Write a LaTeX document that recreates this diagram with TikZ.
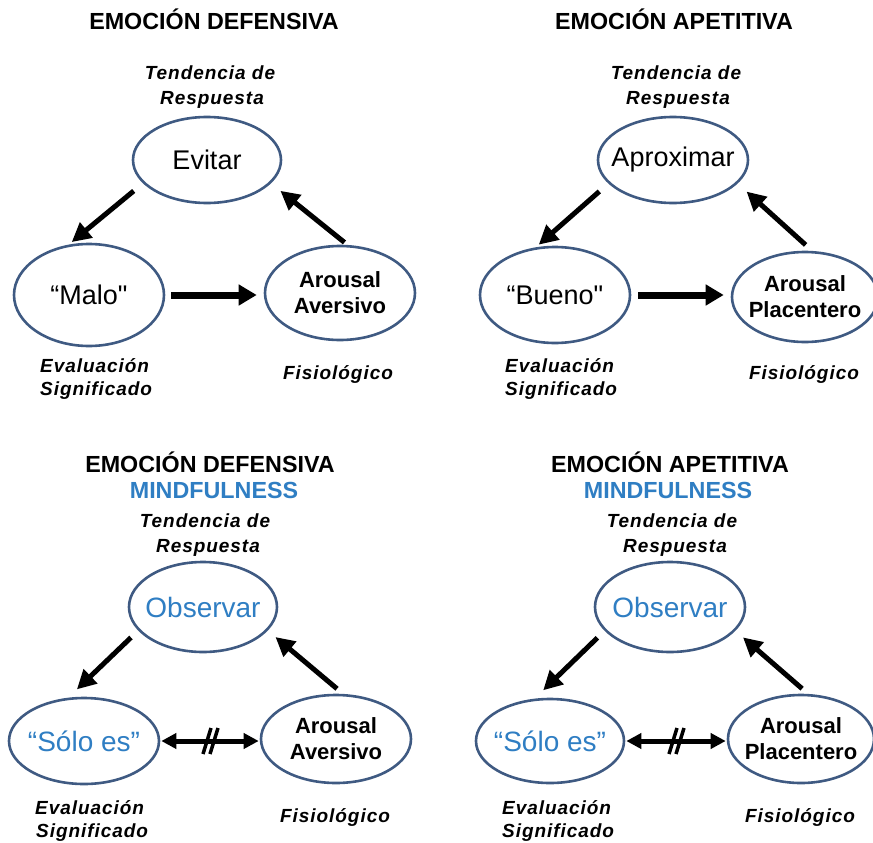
\documentclass[tikz,border=0pt]{standalone}
\usepackage{fontspec}
\setmainfont{Liberation Sans}
\usetikzlibrary{shapes.geometric,arrows.meta,calc}
\definecolor{ellc}{HTML}{3F5A82}
\definecolor{mblue}{HTML}{2F7EC3}
\newcommand{\sq}{\XeTeXglyph\XeTeXcharglyph"22\relax}
\begin{document}
\begin{tikzpicture}[x=1pt,y=-1pt,
  ell/.style={ellipse,draw=ellc,line width=2.6pt,inner sep=0pt},
  ttl/.style={font=\fontsize{23.3}{26}\selectfont\bfseries,anchor=base,inner sep=0pt},
  lab/.style={font=\fontsize{19}{24}\selectfont\bfseries\itshape\addfontfeature{LetterSpace=5},anchor=base,inner sep=0pt},
  inreg/.style={font=\fontsize{27}{30}\selectfont},
  inblue/.style={font=\fontsize{28}{30}\selectfont,text=mblue},
  inbold/.style={font=\fontsize{22}{26}\selectfont\bfseries,align=center},
  arr/.style={line width=5pt,-{Triangle[length=19pt,width=19pt]}},
  harr/.style={line width=7pt,-{Triangle[length=18pt,width=20pt]}},
  darr/.style={line width=5pt,{Triangle[length=15pt,width=15pt]}-{Triangle[length=15pt,width=15pt]}},
  slash/.style={line width=3.5pt}
]
\useasboundingbox (0,0) rectangle (873,843);

% ---------- Panel 1 ----------
\node[ell,minimum width=148pt,minimum height=86pt,label={[inreg]center:Evitar}] (E1) at (207,160) {};
\node[ell,minimum width=150pt,minimum height=102pt,label={[inreg]center:{“Malo\sq}}] (M1) at (89,295) {};
\node[ell,minimum width=150pt,minimum height=94pt,label={[inbold]center:{Arousal\\Aversivo}}] (A1) at (340,293) {};
\node[ttl] (t1) at (214,30) {EMOCIÓN DEFENSIVA};
\node[lab] (r1a) at (210,80) {Tendencia de};
\node[lab] (r1b) at (212,104) {Respuesta};
\node[lab,anchor=base west] (v1a) at (40,372) {Evaluación};
\node[lab,anchor=base west] (v1b) at (40,395) {Significado};
\node[lab] (f1) at (338,379) {Fisiológico};
\draw[arr,shorten <=12pt,shorten >=4pt] (E1.200) -- (M1.112);
\draw[arr,shorten <=4pt,shorten >=12pt] (A1.81) -- (E1.340);
\draw[harr,shorten <=6pt,shorten >=7pt] (M1.east) -- (M1.east -| A1.west);

% ---------- Panel 2 ----------
\node[ell,minimum width=150pt,minimum height=86pt,label={[inreg]center:Aproximar}] (E2) at (673,160) {};
\node[ell,minimum width=150pt,minimum height=96pt,label={[inreg]center:{“Bueno\sq}}] (M2) at (555,295) {};
\node[ell,minimum width=146pt,minimum height=90pt,label={[inbold]center:{Arousal\\Placentero}}] (A2) at (805,297) {};
\node[ttl] (t2) at (674,30) {EMOCIÓN APETITIVA};
\node[lab] (r2a) at (676,80) {Tendencia de};
\node[lab] (r2b) at (678,104) {Respuesta};
\node[lab,anchor=base west] (v2a) at (505,372) {Evaluación};
\node[lab,anchor=base west] (v2b) at (505,395) {Significado};
\node[lab] (f2) at (804,379) {Fisiológico};
\draw[arr,shorten <=12pt,shorten >=4pt] (E2.200) -- (M2.112);
\draw[arr,shorten <=9pt,shorten >=12pt] (A2.81) -- (E2.340);
\draw[harr,shorten <=7pt,shorten >=7pt] (M2.east) -- (M2.east -| A2.west);

% ---------- Panel 3 ----------
\node[ell,minimum width=148pt,minimum height=90pt,label={[inblue]center:Observar}] (E3) at (203,607) {};
\node[ell,minimum width=150pt,minimum height=86pt,label={[inblue]center:{“Sólo es”}}] (M3) at (84,741) {};
\node[ell,minimum width=150pt,minimum height=88pt,label={[inbold]center:{Arousal\\Aversivo}}] (A3) at (336,739) {};
\node[ttl] (t3) at (210,472) {EMOCIÓN DEFENSIVA};
\node[ttl,text=mblue] (m3) at (214,498) {MINDFULNESS};
\node[lab] (r3a) at (205,527) {Tendencia de};
\node[lab] (r3b) at (208,552) {Respuesta};
\node[lab,anchor=base west] (v3a) at (35,814) {Evaluación};
\node[lab,anchor=base west] (v3b) at (36,837) {Significado};
\node[lab] (f3) at (335,822) {Fisiológico};
\draw[arr,shorten <=10pt,shorten >=12pt] (E3.200) -- (M3.110);
\draw[arr,shorten <=8pt,shorten >=10pt] (A3.81) -- (E3.340);
\draw[darr,shorten <=1pt,shorten >=1pt] (M3.east) -- (M3.east -| A3.west);
\coordinate (h3) at ($(M3.east)!0.5!(M3.east -| A3.west)$);
\draw[slash] ([xshift=-7pt,yshift=-13pt]h3) -- ([xshift=1pt,yshift=13pt]h3);
\draw[slash] ([xshift=0pt,yshift=-13pt]h3) -- ([xshift=8pt,yshift=13pt]h3);

% ---------- Panel 4 ----------
\node[ell,minimum width=150pt,minimum height=90pt,label={[inblue]center:Observar}] (E4) at (670,607) {};
\node[ell,minimum width=148pt,minimum height=84pt,label={[inblue]center:{“Sólo es”}}] (M4) at (550,741) {};
\node[ell,minimum width=146pt,minimum height=88pt,label={[inbold]center:{Arousal\\Placentero}}] (A4) at (801,739) {};
\node[ttl] (t4) at (670,472) {EMOCIÓN APETITIVA};
\node[ttl,text=mblue] (m4) at (668,498) {MINDFULNESS};
\node[lab] (r4a) at (672,527) {Tendencia de};
\node[lab] (r4b) at (675,552) {Respuesta};
\node[lab,anchor=base west] (v4a) at (502,814) {Evaluación};
\node[lab,anchor=base west] (v4b) at (502,837) {Significado};
\node[lab] (f4) at (800,822) {Fisiológico};
\draw[arr,shorten <=10pt,shorten >=12pt] (E4.200) -- (M4.110);
\draw[arr,shorten <=8pt,shorten >=10pt] (A4.81) -- (E4.340);
\draw[darr,shorten <=1pt,shorten >=1pt] (M4.east) -- (M4.east -| A4.west);
\coordinate (h4) at ($(M4.east)!0.5!(M4.east -| A4.west)$);
\draw[slash] ([xshift=-7pt,yshift=-13pt]h4) -- ([xshift=1pt,yshift=13pt]h4);
\draw[slash] ([xshift=0pt,yshift=-13pt]h4) -- ([xshift=8pt,yshift=13pt]h4);
\end{tikzpicture}
\end{document}
